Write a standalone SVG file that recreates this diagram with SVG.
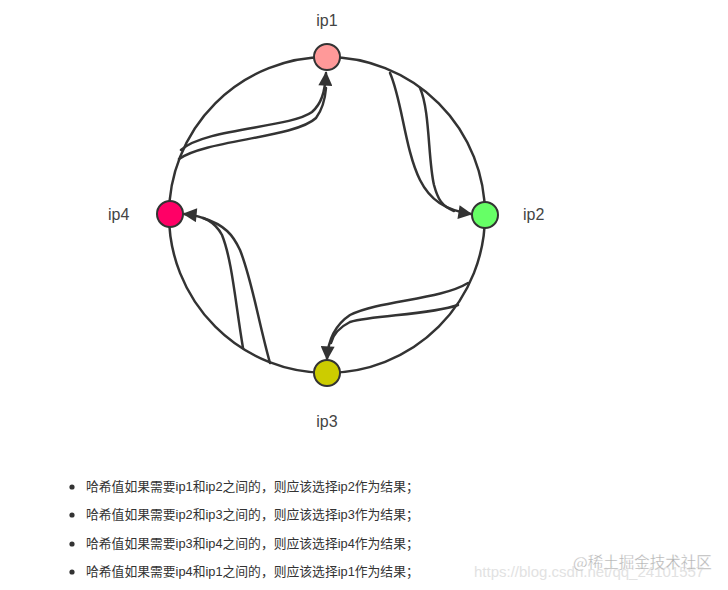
<svg xmlns="http://www.w3.org/2000/svg" width="728" height="590" viewBox="0 0 728 590">
<style>
  .ring{fill:none;stroke:#333;stroke-width:2.5}
  .node{stroke:#333;stroke-width:2}
  .lbl{font-family:"Liberation Sans","Noto Sans",sans-serif;font-size:16px;fill:#444}
  .edge{fill:none;stroke:#333;stroke-width:2.5;stroke-linecap:round}
  .li{font-family:"Liberation Sans","Noto Sans CJK SC",sans-serif;font-size:12.8px;fill:#333}
  .dot{fill:#333}
</style>
<defs>
  <marker id="ah" viewBox="0 0 10 10" refX="9" refY="5" markerUnits="userSpaceOnUse" markerWidth="21" markerHeight="14" orient="auto">
    <path d="M0,0 L10,5 L0,10 z" fill="#333"/>
  </marker>
</defs>
<rect width="728" height="590" fill="#fff"/>
<g id="ring"><circle class="ring" cx="327" cy="215" r="158"/></g>
<g id="connectors">
  <path class="edge" d="M181,150 C205,128 290,128 312,112 C321,104 325,93 326,73" marker-end="url(#ah)"/>
  <path class="edge" d="M179,159 C205,140 295,138 316,118 C322,110 325,100 326,88"/>
  <path class="edge" d="M390,73 C402,100 405,150 420,180 C430,200 445,210 471,214" marker-end="url(#ah)"/>
  <path class="edge" d="M420,88 C430,110 428,160 434,185 C438,200 442,206 454,211"/>
  <path class="edge" d="M468,283 C440,300 380,300 350,315 C335,325 328,340 327,359" marker-end="url(#ah)"/>
  <path class="edge" d="M458,305 C430,315 375,315 350,322 C338,328 333,335 331,343"/>
  <path class="edge" d="M243,348 C235,300 232,260 222,235 C215,222 205,216 184,214" marker-end="url(#ah)"/>
  <path class="edge" d="M270,363 C258,320 252,280 240,250 C233,235 225,225 203,218"/>
</g>
<g id="ip1"><circle class="node" cx="327" cy="57" r="13" fill="#ff9999"/><text class="lbl" x="327" y="26" text-anchor="middle">ip1</text></g>
<g id="ip2"><circle class="node" cx="485" cy="215" r="13" fill="#66ff66"/><text class="lbl" x="523" y="220">ip2</text></g>
<g id="ip3"><circle class="node" cx="327" cy="373" r="13" fill="#cccc00"/><text class="lbl" x="327" y="427" text-anchor="middle">ip3</text></g>
<g id="ip4"><circle class="node" cx="170" cy="214" r="13" fill="#ff0066"/><text class="lbl" x="108" y="220">ip4</text></g>
<g id="notes">
  <circle class="dot" cx="72" cy="487" r="2.6"/><text class="li" x="86" y="491">哈希值如果需要ip1和ip2之间的，则应该选择ip2作为结果；</text>
  <circle class="dot" cx="72" cy="515" r="2.6"/><text class="li" x="86" y="519">哈希值如果需要ip2和ip3之间的，则应该选择ip3作为结果；</text>
  <circle class="dot" cx="72" cy="544" r="2.6"/><text class="li" x="86" y="548">哈希值如果需要ip3和ip4之间的，则应该选择ip4作为结果；</text>
  <circle class="dot" cx="72" cy="572" r="2.6"/><text class="li" x="86" y="576">哈希值如果需要ip4和ip1之间的，则应该选择ip1作为结果；</text>
</g>
<g id="watermark">
  <text x="474" y="577" font-family="Liberation Sans,sans-serif" font-size="15" fill="#e2e2e2">https://blog.csdn.net/qq_24101557</text>
  <text x="573" y="568" font-family="Noto Sans CJK SC,sans-serif" font-size="15.5" fill="#b0b0b0" stroke="#fff" stroke-width="0.3">@稀土掘金技术社区</text>
</g>
</svg>
